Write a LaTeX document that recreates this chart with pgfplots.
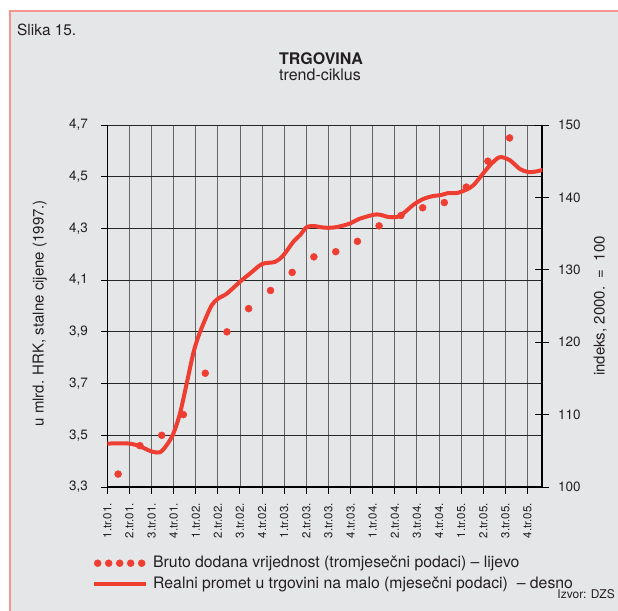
\documentclass[border=0pt]{standalone}
\usepackage{pgfplots}
\pgfplotsset{compat=1.18}
\usepackage{fontspec}
\setmainfont{TeX Gyre Heros}
\definecolor{bg}{RGB}{229,230,232}
\definecolor{framec}{RGB}{244,150,142}
\definecolor{lred}{RGB}{238,62,50}
\definecolor{txt}{RGB}{35,31,32}
\begin{document}
\begin{tikzpicture}[x=1pt,y=1pt]
\useasboundingbox (0,0) rectangle (618,-610);
\fill[white] (0,0) rectangle (618,-610);
\fill[bg] (10,-11) rectangle (640,-640);
\draw[framec, line width=2pt] (640,-11) -- (10,-11) -- (10,-640);
\node[anchor=base west, font=\fontsize{15.4}{18}\selectfont, text=txt, inner sep=0] at (17,-36) {Slika 15.};
\node[anchor=base west, font=\fontsize{16}{19}\selectfont\bfseries, text=txt, inner sep=0] at (279,-64) {TRGOVINA};
\node[anchor=base west, font=\fontsize{16}{19}\selectfont, text=txt, inner sep=0] at (279,-80) {trend-ciklus};
\node[anchor=base east, font=\fontsize{12}{14}\selectfont, text=txt, inner sep=0] at (615,-598) {Izvor: DZS};

\begin{axis}[
  at={(107.3pt,-487pt)}, anchor=south west,
  scale only axis, width=435pt, height=362pt,
  xmin=0, xmax=19.67, ymin=3.3, ymax=4.7,
  axis x line*=bottom, axis y line*=left,
  axis line style={line width=1.4pt, black},
  xtick={0,1,2,3,4,5,6,7,8,9,10,11,12,13,14,15,16,17,18,19},
  xticklabels={1.tr.01.,2.tr.01.,3.tr.01.,4.tr.01.,1.tr.02.,2.tr.02.,3.tr.02.,4.tr.02.,1.tr.03.,2.tr.03.,3.tr.03.,4.tr.03.,1.tr.04.,2.tr.04.,3.tr.04.,4.tr.04.,1.tr.05.,2.tr.05.,3.tr.05.,4.tr.05.},
  ytick={3.3,3.5,3.7,3.9,4.1,4.3,4.5,4.7},
  tick align=outside, major tick length=6.5pt,
  tick style={black, line width=1pt},
  grid=major,
  x grid style={black!60, line width=0.9pt},
  y grid style={black!85, line width=0.9pt},
  xticklabel style={rotate=90, anchor=east, font=\fontsize{11.5}{13}\selectfont, inner sep=0pt, text=txt},
  xticklabel shift=9.5pt,
  yticklabel style={anchor=east, font=\fontsize{13.5}{16}\selectfont, inner sep=0pt, text=txt, /pgf/number format/.cd, fixed, fixed zerofill, precision=1, use comma},
  yticklabel shift=12.8pt,
  /pgf/number format/assume math mode=true,
  ylabel={u mlrd. HRK, stalne cijene (1997.)},
  ylabel style={at={(axis description cs:-0.155,0.48)}, anchor=center, font=\fontsize{15}{18}\selectfont, text=txt},
  legend style={at={(axis description cs:-0.0352,-0.1865)}, anchor=north west, draw=none, fill=none, inner sep=0pt,
    font=\fontsize{15.8}{19}\selectfont, text=txt, row sep=4pt,
    nodes={inner sep=1pt, text height=11.5pt, text depth=3.5pt},
    /tikz/every odd column/.append style={column sep=4pt}},
  legend cell align=left,
]
\addplot[only marks, mark=*, mark size=3.5pt, color=lred,
  legend image code/.code={\foreach \i in {0,...,4}{\fill[lred] (\i*11pt+3.5pt,0pt) circle (3.5pt);}}]
  coordinates {
  (0.49,3.35) (1.475,3.46) (2.46,3.50) (3.44,3.58) (4.43,3.74) (5.41,3.90) (6.39,3.99)
  (7.38,4.06) (8.36,4.13) (9.34,4.19) (10.33,4.21) (11.31,4.25) (12.29,4.31) (13.28,4.35)
  (14.26,4.38) (15.24,4.40) (16.23,4.46) (17.21,4.56) (18.19,4.65)
  };
\addlegendentry{Bruto dodana vrijednost (tromjesečni podaci) – lijevo}
\addlegendimage{legend image code/.code={\draw[lred, line width=4pt] (0pt,0pt) -- (52pt,0pt);}}
\addlegendentry{Realni promet u trgovini na malo (mjesečni podaci) \ – desno}
\end{axis}

\begin{axis}[
  at={(107.3pt,-487pt)}, anchor=south west,
  scale only axis, width=435pt, height=362pt,
  xmin=0, xmax=19.67, ymin=100, ymax=150,
  axis x line=none, axis y line*=right,
  axis line style={line width=2pt, black},
  ytick={100,110,120,130,140,150},
  tick align=center, major tick length=14pt,
  tick style={black, line width=1pt},
  yticklabel style={anchor=west, font=\fontsize{13.5}{16}\selectfont, inner sep=0pt, text=txt},
  yticklabel shift=8.7pt,
  /pgf/number format/assume math mode=true,
  ylabel={indeks, 2000.\ \ =\ \ 100},
  ylabel style={at={(axis description cs:1.133,0.5)}, anchor=center, font=\fontsize{15}{18}\selectfont, text=txt},
]
\addplot[lred, line width=4pt, smooth, tension=0.5, line join=round, line cap=round] coordinates {
(0,106.0) (0.98,106.0) (1.48,105.6) (2.01,104.9) (2.38,104.8) (2.69,105.8) (2.99,107.4)
(3.29,110.2) (3.59,114.3) (3.89,118.5) (4.12,120.8) (4.42,123.1) (4.72,125.1) (5.0,126.0)
(5.40,126.7) (6.02,128.4) (6.46,129.5) (7.0,130.8) (7.59,131.1) (7.96,132.0) (8.42,133.9)
(8.72,134.8) (9.02,135.9) (9.35,136.05) (9.62,135.9) (9.97,135.8) (10.38,135.9) (10.98,136.4)
(11.36,137.0) (12.04,137.6) (12.34,137.6) (12.71,137.3) (13.1,137.3) (13.39,137.8) (13.85,139.0)
(14.30,139.8) (14.75,140.2) (15.05,140.3) (15.43,140.6) (15.81,140.6) (16.26,141.1) (16.56,141.7)
(16.94,143.1) (17.32,144.5) (17.69,145.5) (17.92,145.5) (18.22,145.1) (18.67,143.9) (19.05,143.5)
(19.43,143.6) (19.67,143.8)
};
\end{axis}
\end{tikzpicture}
\end{document}
